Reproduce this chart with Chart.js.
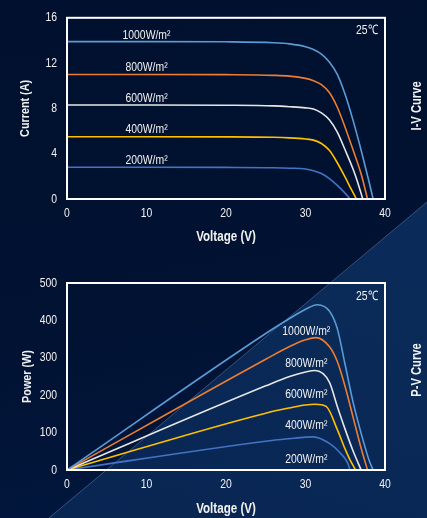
<!DOCTYPE html>
<html>
<head>
<meta charset="utf-8">
<script src="https://cdn.jsdelivr.net/npm/chart.js@4.4.1/dist/chart.umd.min.js"></script>
<style>
  html, body { margin: 0; padding: 0; width: 427px; height: 518px; overflow: hidden; }
  body { position: relative; background: linear-gradient(170deg, #00102e 0%, #011232 55%, #021840 100%); }
  #light { position: absolute; left: 0; top: 0; width: 427px; height: 518px;
    clip-path: polygon(358px 260px, 427px 202px, 427px 518px, 49px 518px);
    background: linear-gradient(200deg, #0b2d5e 0%, #0a2a58 50%, #092552 100%); }
  #edge { position: absolute; left: 0; top: 0; }
  canvas { position: absolute; left: 0; }
  #c1 { top: 0; }
  #c2 { top: 260px; }
</style>
</head>
<body>
<div id="light"></div>
<svg id="edge" width="427" height="518"><line x1="49" y1="518" x2="427" y2="202" stroke="rgba(150,180,225,0.45)" stroke-width="0.8"/></svg>
<canvas id="c1" width="427" height="260"></canvas>
<canvas id="c2" width="427" height="258"></canvas>
<script>
// ---------- data: I-V curves (Voltage V, Current A) ----------
const ivV1000 = [0, 10, 20, 26, 28, 30, 31, 32, 33, 34, 35, 36, 37, 38, 38.5];
const ivI1000 = [13.9, 13.9, 13.88, 13.8, 13.7, 13.45, 13.2, 12.8, 12.1, 11.0, 9.2, 6.9, 4.3, 1.5, 0];
const ivV800 = [0, 10, 20, 26, 28, 30, 31, 32, 33, 34, 35, 36, 37, 37.8];
const ivI800 = [11.0, 11.0, 10.98, 10.92, 10.85, 10.65, 10.45, 10.1, 9.4, 8.1, 6.3, 4.3, 2.2, 0];
const ivV600 = [0, 10, 20, 26, 28, 30, 31, 32, 33, 34, 35, 36, 36.6, 37.2];
const ivI600 = [8.3, 8.3, 8.28, 8.22, 8.15, 8.05, 7.95, 7.6, 7.0, 5.9, 4.3, 2.6, 1.4, 0];
const ivV400 = [0, 10, 20, 26, 28, 30, 31, 32, 33, 34, 35, 35.8, 36.4];
const ivI400 = [5.5, 5.5, 5.49, 5.45, 5.4, 5.3, 5.2, 4.9, 4.3, 3.2, 1.9, 0.8, 0];
const ivV200 = [0, 10, 20, 26, 28, 30, 31, 32, 33, 34, 35, 35.6];
const ivI200 = [2.8, 2.8, 2.79, 2.76, 2.72, 2.65, 2.5, 2.25, 1.8, 1.2, 0.5, 0];

// ---------- data: P-V curves (Voltage V, Power W) ----------
const pvV1000 = [0, 25, 28, 30, 31.5, 33, 34, 35, 36, 37, 38, 38.5];
const pvP1000 = [0, 365, 405, 430, 442, 425, 378, 280, 180, 98, 26, 0];
const pvV800 = [0, 25, 28, 30, 31.3, 33, 34, 35, 36, 37, 37.8];
const pvP800 = [0, 296, 330, 348, 354, 330, 290, 222, 140, 58, 0];
const pvV600 = [0, 25, 28, 30, 31.2, 33, 34, 35, 36, 37.0];
const pvP600 = [0, 225, 250, 262, 266, 235, 170, 108, 50, 0];
const pvV400 = [0, 25, 28, 30, 31.2, 32.6, 34, 35, 35.6, 36.3];
const pvP400 = [0, 152, 166, 174, 176, 170, 108, 55, 27, 0];
const pvV200 = [0, 25, 28, 30, 31, 33, 34.4, 35.3, 35.6];
const pvP200 = [0, 77, 84, 88, 88.5, 71, 45, 19, 0];

const seriesNames = ['1000W/m²', '800W/m²', '600W/m²', '400W/m²', '200W/m²'];
const seriesColors = ['#5b9bd5', '#ed7d31', '#e6e6e6', '#ffc000', '#4472c4'];
const xTicks = [0, 10, 20, 30, 40];
const ivTicks = [0, 4, 8, 12, 16];
const pvTicks = [0, 100, 200, 300, 400, 500];
const temperature = '25℃';

// label anchors (data coordinates)
const ivLabelPos = [[10, 14.45], [10, 11.65], [10, 8.9], [10, 6.15], [10, 3.4]];
const pvLabelPos = [[30.1, 370], [30.1, 284], [30.1, 203], [30.1, 120], [30.1, 29]];

const FONT = '"Liberation Sans", Arial, sans-serif';
const NARROW = 0.8;   // horizontal compression -> narrow face look
const TXT = '#f2f2f2';

function zip(xs, ys) { return xs.map((x, i) => ({ x: x, y: ys[i] })); }

function makeDatasets(vs, ys) {
  return vs.map((v, k) => ({
    label: seriesNames[k],
    data: zip(v, ys[k]),
    borderColor: seriesColors[k],
    backgroundColor: seriesColors[k],
    borderWidth: 1.6,
    pointRadius: 0,
    showLine: true,
    fill: false,
    cubicInterpolationMode: 'monotone'
  }));
}

const narrowPlugin = {
  id: 'narrow',
  beforeInit(chart) {
    const ctx = chart.ctx;
    const proto = CanvasRenderingContext2D.prototype.fillText;
    ctx.fillText = function (t, x, y) {
      this.save();
      this.translate(x, y);
      this.scale(NARROW, 1);
      proto.call(this, t, 0, 0);
      this.restore();
    };
  }
};

const overlayPlugin = {
  id: 'overlay',
  afterDatasetsDraw(chart, args, opts) {
    const { ctx, chartArea: a } = chart;
    const sx = chart.scales.x, sy = chart.scales.y;
    ctx.save();
    ctx.strokeStyle = '#ffffff';
    ctx.lineWidth = 2;
    ctx.strokeRect(a.left, a.top, a.right - a.left, a.bottom - a.top);
    ctx.fillStyle = TXT;
    ctx.font = '13px ' + FONT;
    ctx.textAlign = 'right';
    ctx.textBaseline = 'middle';
    ctx.fillText(temperature, a.right - 7, a.top + opts.tempDy);
    ctx.textAlign = 'center';
    ctx.font = '13px ' + FONT;
    opts.labels.forEach((p, k) => {
      ctx.fillText(seriesNames[k], sx.getPixelForValue(p[0]), sy.getPixelForValue(p[1]));
    });
    // side title
    ctx.translate(opts.sideX, (a.top + a.bottom) / 2 + opts.sideDy);
    ctx.rotate(-Math.PI / 2);
    ctx.font = 'bold 14px ' + FONT;
    ctx.fillText(opts.side, 0, 0);
    ctx.restore();
  }
};

function makeChart(id, datasets, yMax, yTicks, yTitle, xh, padTop, xTitlePad, yTitlePad, overlay) {
  return new Chart(document.getElementById(id), {
    type: 'scatter',
    data: { datasets: datasets },
    options: {
      responsive: false,
      animation: false,
      devicePixelRatio: 1,
      layout: { padding: { left: 0, right: 42, top: padTop, bottom: 0 } },
      plugins: { legend: { display: false }, tooltip: { enabled: false }, overlay: overlay },
      scales: {
        x: {
          type: 'linear', min: 0, max: 40,
          afterBuildTicks: s => { s.ticks = xTicks.map(v => ({ value: v })); },
          grid: { display: false, drawTicks: false },
          border: { display: false },
          ticks: { color: TXT, font: { family: FONT, size: 13 }, padding: 7 },
          title: { display: true, text: 'Voltage (V)', color: TXT, font: { family: FONT, size: 14.5, weight: 'bold' }, padding: { top: 0, bottom: xTitlePad } },
          afterFit: s => { s.height = xh; }
        },
        y: {
          type: 'linear', min: 0, max: yMax,
          afterBuildTicks: s => { s.ticks = yTicks.map(v => ({ value: v })); },
          grid: { display: false, drawTicks: false },
          border: { display: false },
          ticks: { color: TXT, font: { family: FONT, size: 13 }, padding: 10 },
          title: { display: true, text: yTitle, color: TXT, font: { family: FONT, size: 13.5, weight: 'bold' }, padding: { top: yTitlePad, bottom: 0 } },
          afterFit: s => { s.width = 67; }
        }
      }
    },
    plugins: [narrowPlugin, overlayPlugin]
  });
}

makeChart('c1',
  makeDatasets([ivV1000, ivV800, ivV600, ivV400, ivV200], [ivI1000, ivI800, ivI600, ivI400, ivI200]),
  16, ivTicks, 'Current (A)', 61, 12, 14.5, 17,
  { labels: ivLabelPos, tempDy: 13, side: 'I-V Curve', sideX: 417, sideDy: -2.5 });

makeChart('c2',
  makeDatasets([pvV1000, pvV800, pvV600, pvV400, pvV200], [pvP1000, pvP800, pvP600, pvP400, pvP200]),
  500, pvTicks, 'Power (W)', 48, 23, 0, 19,
  { labels: pvLabelPos, tempDy: 13, side: 'P-V Curve', sideX: 417, sideDy: -6.5 });
</script>
</body>
</html>
